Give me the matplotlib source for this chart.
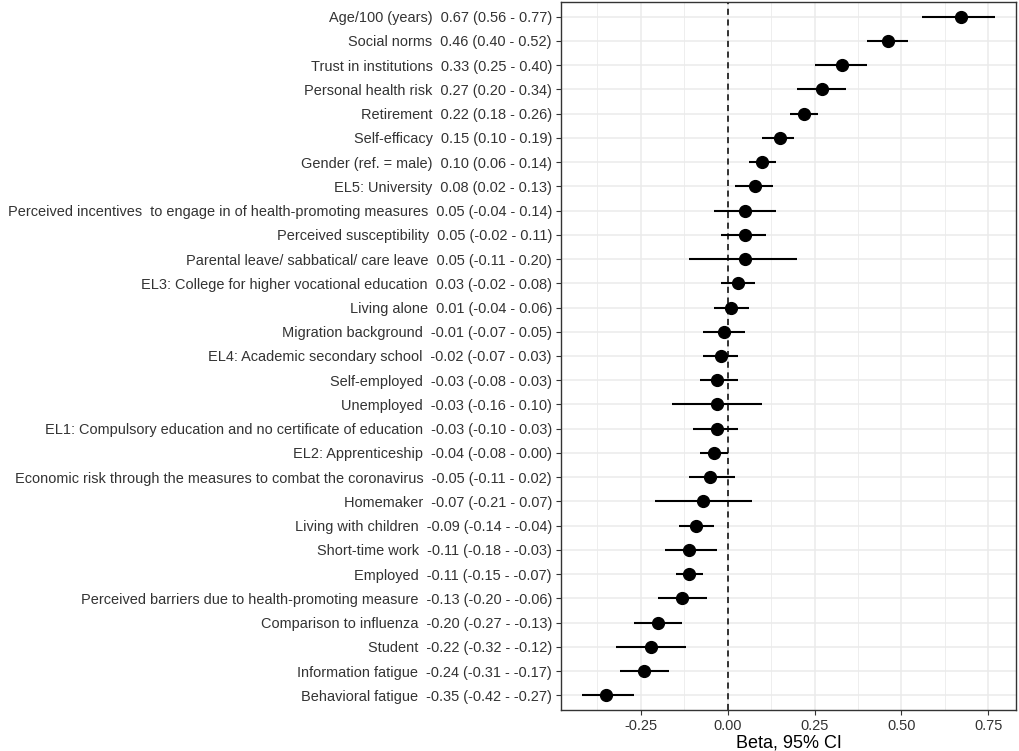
import matplotlib.pyplot as plt
import numpy as np

plt.rcParams['font.family'] = ['Liberation Sans', 'DejaVu Sans']

# top to bottom, as in the figure
names = [
    'Age/100 (years)', 'Social norms', 'Trust in institutions', 'Personal health risk',
    'Retirement', 'Self-efficacy', 'Gender (ref. = male)', 'EL5: University',
    'Perceived incentives  to engage in of health-promoting measures',
    'Perceived susceptibility', 'Parental leave/ sabbatical/ care leave',
    'EL3: College for higher vocational education', 'Living alone',
    'Migration background', 'EL4: Academic secondary school', 'Self-employed',
    'Unemployed', 'EL1: Compulsory education and no certificate of education',
    'EL2: Apprenticeship',
    'Economic risk through the measures to combat the coronavirus',
    'Homemaker', 'Living with children', 'Short-time work', 'Employed',
    'Perceived barriers due to health-promoting measure',
    'Comparison to influenza', 'Student', 'Information fatigue', 'Behavioral fatigue',
]
beta = [0.67, 0.46, 0.33, 0.27, 0.22, 0.15, 0.10, 0.08, 0.05, 0.05, 0.05, 0.03, 0.01,
        -0.01, -0.02, -0.03, -0.03, -0.03, -0.04, -0.05, -0.07, -0.09, -0.11, -0.11,
        -0.13, -0.20, -0.22, -0.24, -0.35]
lower = [0.56, 0.40, 0.25, 0.20, 0.18, 0.10, 0.06, 0.02, -0.04, -0.02, -0.11, -0.02, -0.04,
         -0.07, -0.07, -0.08, -0.16, -0.10, -0.08, -0.11, -0.21, -0.14, -0.18, -0.15,
         -0.20, -0.27, -0.32, -0.31, -0.42]
upper = [0.77, 0.52, 0.40, 0.34, 0.26, 0.19, 0.14, 0.13, 0.14, 0.11, 0.20, 0.08, 0.06,
         0.05, 0.03, 0.03, 0.10, 0.03, 0.00, 0.02, 0.07, -0.04, -0.03, -0.07,
         -0.06, -0.13, -0.12, -0.17, -0.27]

labels = ['%s  %.2f (%.2f - %.2f)' % (n, b, lo, hi)
          for n, b, lo, hi in zip(names, beta, lower, upper)]

n = len(names)
y = np.arange(n)[::-1]

fig = plt.figure(figsize=(10.2, 7.51), dpi=100)
ax = fig.add_axes([561 / 1020, 41 / 751, 455 / 1020, 708 / 751])

ax.hlines(y, lower, upper, color='black', lw=1.5, zorder=3)
ax.plot(beta, y, 'o', color='black', ms=8.5, zorder=4)
ax.axvline(0, color='black', ls=(0, (4, 3)), lw=1.1, zorder=2)

span = max(upper) - min(lower)
ax.set_xlim(min(lower) - 0.05 * span, max(upper) + 0.05 * span)
ax.set_ylim(-0.6, n - 0.4)
ax.set_xticks([-0.25, 0, 0.25, 0.5, 0.75])
ax.set_xticklabels(['-0.25', '0.00', '0.25', '0.50', '0.75'])
ax.set_xticks([-0.375, -0.125, 0.125, 0.375, 0.625], minor=True)
ax.set_yticks(y)
ax.set_yticklabels(labels)

ax.grid(True, which='major', color='#EBEBEB', lw=1.1, zorder=0)
ax.grid(True, which='minor', axis='x', color='#EBEBEB', lw=0.6, zorder=0)
ax.set_axisbelow(True)
for s in ax.spines.values():
    s.set_color('#333333')
    s.set_linewidth(1.0)
ax.tick_params(axis='both', which='major', length=3.5, color='#333333',
               labelsize=10.45, labelcolor='#333333', pad=3)
ax.tick_params(axis='x', which='minor', length=0)
ax.set_xlabel('Beta, 95% CI', fontsize=13, labelpad=1)

fig.savefig('out.png', dpi=100)
